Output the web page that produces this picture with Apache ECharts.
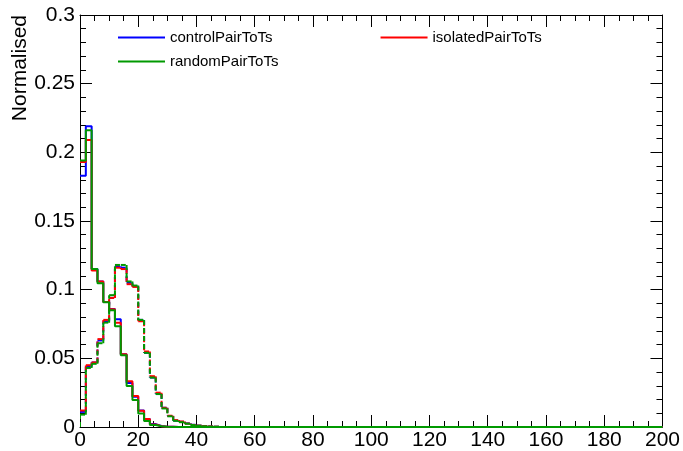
<!DOCTYPE html>
<html>
<head>
<meta charset="utf-8">
<script src="https://cdn.jsdelivr.net/npm/echarts@6/dist/echarts.min.js"></script>
<style>
html,body{margin:0;padding:0;background:#fff;}
#chart{width:683px;height:451px;}
</style>
</head>
<body>
<div id="chart"></div>
<script>
// Bin left edges (bin width 2); the last bin's histogram continues at zero to the axis end (200)
const binLeftEdges = [0,2,4,6,8,10,12,14,16,18,20,22,24,26,28,30,32,34,36,38,40,42,44,46,48];
const xEnd = 200;

// Solid histograms
const controlSolid  = [0.183,0.219,0.115,0.106,0.091,0.086,0.0785,0.053,0.032,0.022,0.012,0.0058,0.0021,0.0007,0.0002,0.0001,0,0,0,0,0,0,0,0,0];
const isolatedSolid = [0.193,0.209,0.114,0.106,0.091,0.0857,0.076,0.053,0.0334,0.0225,0.0118,0.0058,0.0019,0.0006,0.0002,0.0001,0,0,0,0,0,0,0,0,0];
const randomSolid   = [0.194,0.216,0.115,0.1046,0.0908,0.085,0.0734,0.0523,0.0298,0.0196,0.0098,0.0043,0.0015,0.0005,0.0001,0,0,0,0,0,0,0,0,0,0];

// Dashed histograms
const controlDashed  = [0.011,0.044,0.047,0.063,0.077,0.094,0.117,0.116,0.105,0.1025,0.078,0.054,0.036,0.024,0.014,0.008,0.0046,0.0038,0.0026,0.0016,0.001,0.0006,0.0004,0.0002,0];
const isolatedDashed = [0.012,0.045,0.047,0.064,0.078,0.094,0.116,0.115,0.104,0.102,0.077,0.055,0.037,0.025,0.014,0.0082,0.005,0.004,0.0025,0.0015,0.001,0.0006,0.0004,0.0002,0];
const randomDashed   = [0.009,0.043,0.046,0.061,0.076,0.096,0.118,0.118,0.106,0.103,0.078,0.054,0.036,0.024,0.0135,0.0078,0.0045,0.0035,0.0024,0.0014,0.0009,0.0005,0.0003,0.0002,0];

const seriesNames = ['controlPairToTs','isolatedPairToTs','randomPairToTs'];
const seriesColors = ['#0000ff','#ff0000','#009900'];
const yTitle = 'Normalised';

const FONT = '"Liberation Sans", Arial, Helvetica, sans-serif';

function stepData(vals){
  const d = binLeftEdges.map((e,i)=>[e, vals[i]]);
  d.push([xEnd, 0]);
  return d;
}

function solidSeries(name, vals, color){
  return {
    name: name,
    type: 'line',
    step: 'end',
    data: stepData(vals),
    showSymbol: false,
    symbol: 'none',
    color: color,
    lineStyle: {color: color, width: 2, type: 'solid'},
    silent: true,
    clip: true,
    z: 3
  };
}

// Dashed histogram drawn segment by segment so each segment's dash pattern restarts (as in ROOT)
function dashedSeries(name, vals, color){
  const data = binLeftEdges.map((e,i)=>{
    const right = i < binLeftEdges.length - 1 ? binLeftEdges[i+1] : xEnd;
    const prev = i > 0 ? vals[i-1] : 0;
    return [e, right, vals[i], prev];
  });
  return {
    name: name,
    type: 'custom',
    data: data,
    encode: {x: [0,1], y: [2,3]},
    clip: true,
    silent: true,
    z: 3,
    renderItem: function(params, api){
      const xl = api.value(0), xr = api.value(1), v = api.value(2), pv = api.value(3);
      const pP = api.coord([xl, pv]);
      const pL = api.coord([xl, v]);
      const pR = api.coord([xr, v]);
      const st = {stroke: color, lineWidth: 2, lineDash: [5,3], fill: null};
      return {
        type: 'group',
        children: [
          {type: 'line', shape: {x1: pP[0], y1: pP[1], x2: pL[0], y2: pL[1]}, style: st},
          {type: 'line', shape: {x1: pL[0], y1: pL[1], x2: pR[0], y2: pR[1]}, style: st}
        ]
      };
    }
  };
}

const solidSets = [controlSolid, isolatedSolid, randomSolid];
const dashedSets = [controlDashed, isolatedDashed, randomDashed];
const series = [];
for (let i=0;i<3;i++){
  series.push(dashedSeries(seriesNames[i]+' (dashed)', dashedSets[i], seriesColors[i]));
}
for (let i=0;i<3;i++){
  series.push(solidSeries(seriesNames[i], solidSets[i], seriesColors[i]));
}

const tickCommon = {
  axisLine: {show: true, onZero: false, lineStyle: {color: '#000', width: 1}},
  axisTick: {show: true, inside: true, length: 12, lineStyle: {color: '#000', width: 1}},
  splitLine: {show: false},
  minorSplitLine: {show: false}
};

const chart = echarts.init(document.getElementById('chart'), null, {renderer: 'canvas'});
chart.setOption({
  animation: false,
  backgroundColor: '#fff',
  grid: {left: 80, right: 20, top: 15, bottom: 23, containLabel: false},
  legend: [
    {
      data: [seriesNames[0], seriesNames[1]],
      left: 113, top: 25,
      orient: 'horizontal',
      icon: 'rect', itemWidth: 47, itemHeight: 2, itemGap: 108,
      selectedMode: false,
      textStyle: {fontFamily: FONT, fontSize: 15, color: '#000'}
    },
    {
      data: [seriesNames[2]],
      left: 113, top: 49,
      orient: 'horizontal',
      icon: 'rect', itemWidth: 47, itemHeight: 2,
      selectedMode: false,
      textStyle: {fontFamily: FONT, fontSize: 15, color: '#000'}
    }
  ],
  xAxis: [
    Object.assign({
      type: 'value', position: 'bottom', min: 0, max: 200, interval: 20,
      axisLabel: {show: true, fontFamily: FONT, fontSize: 21, color: '#000', margin: 3,
                  showMinLabel: true, showMaxLabel: true}
    }, tickCommon, {minorTick: {show: true, splitNumber: 4, length: 6, lineStyle: {color: '#000', width: 1}}}),
    Object.assign({
      type: 'value', position: 'top', min: 0, max: 200, interval: 20,
      axisLabel: {show: false}
    }, tickCommon, {minorTick: {show: true, splitNumber: 4, length: 6, lineStyle: {color: '#000', width: 1}}})
  ],
  yAxis: [
    Object.assign({
      type: 'value', position: 'left', min: 0, max: 0.3, interval: 0.05,
      axisLabel: {show: true, fontFamily: FONT, fontSize: 21, color: '#000', margin: 5,
                  showMinLabel: true, showMaxLabel: true,
                  formatter: v => String(parseFloat(v.toFixed(3)))}
    }, tickCommon, {minorTick: {show: true, splitNumber: 5, length: 6, lineStyle: {color: '#000', width: 1}}}),
    Object.assign({
      type: 'value', position: 'right', min: 0, max: 0.3, interval: 0.05,
      axisLabel: {show: false}
    }, tickCommon, {minorTick: {show: true, splitNumber: 5, length: 6, lineStyle: {color: '#000', width: 1}}})
  ],
  graphic: [
    {
      type: 'text',
      x: 10, y: 15,
      rotation: Math.PI / 2,
      style: {
        text: yTitle,
        fontFamily: FONT, fontSize: 21, fill: '#000',
        textAlign: 'right', textVerticalAlign: 'top'
      }
    }
  ],
  series: series
});
</script>
</body>
</html>
